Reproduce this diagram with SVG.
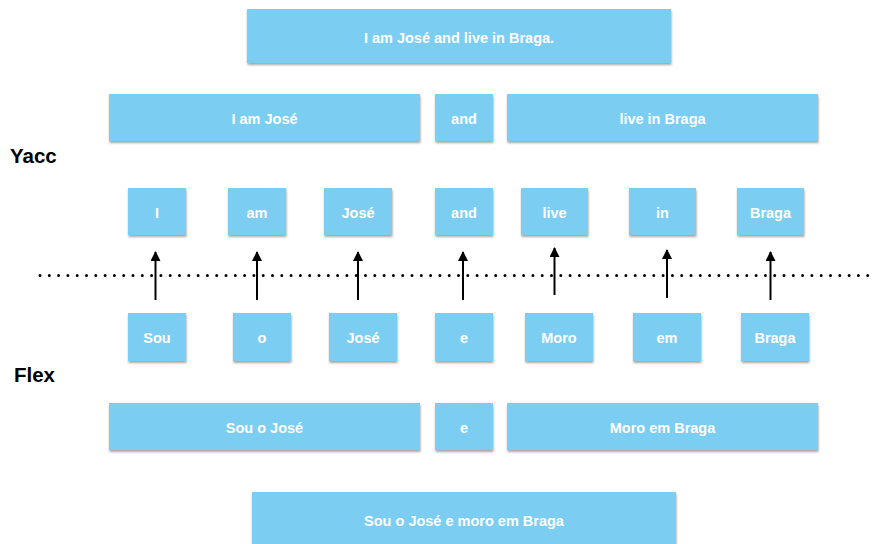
<svg xmlns="http://www.w3.org/2000/svg" width="875" height="544" viewBox="0 0 875 544">
<defs>
<filter id="sh" x="-10%" y="-20%" width="120%" height="150%">
<feDropShadow dx="0.5" dy="2" stdDeviation="1" flood-color="#6b6b6b" flood-opacity="0.6"/>
</filter>
<marker id="ah" viewBox="0 0 10 10" refX="9" refY="5" markerWidth="10" markerHeight="10" markerUnits="userSpaceOnUse" orient="auto">
<path d="M0,0 L10,5 L0,10 z" fill="#000"/>
</marker>
</defs>
<style>
.b{fill:#7ccdf2;filter:url(#sh)}
.t{fill:#fff;font-family:"Liberation Sans",Arial,sans-serif;font-weight:bold;font-size:14.5px;text-anchor:middle;dominant-baseline:central}
.lab{fill:#000;font-family:"Liberation Sans",Arial,sans-serif;font-weight:bold;font-size:20.5px}
.ar{stroke:#000;stroke-width:2;fill:none;marker-end:url(#ah)}
</style>
<rect width="875" height="544" fill="#fff"/>
<text class="lab" x="10" y="163">Yacc</text>
<text class="lab" x="14" y="382">Flex</text>
<g id="n-top"><rect class="b" x="247" y="9" width="424" height="54"/><text class="t" x="459" y="37.5">I am José and live in Braga.</text></g>
<g id="n-y1"><rect class="b" x="109" y="94" width="311" height="47"/><text class="t" x="264.5" y="118.5">I am José</text></g>
<g id="n-y2"><rect class="b" x="435" y="94" width="58" height="47"/><text class="t" x="464" y="118.5">and</text></g>
<g id="n-y3"><rect class="b" x="507" y="94" width="311" height="47"/><text class="t" x="662.5" y="118.5">live in Braga</text></g>
<g id="n-t1"><rect class="b" x="128" y="188" width="58" height="47"/><text class="t" x="157" y="212.5">I</text></g>
<g id="n-t2"><rect class="b" x="228" y="188" width="58" height="47"/><text class="t" x="257" y="212.5">am</text></g>
<g id="n-t3"><rect class="b" x="324" y="188" width="68" height="47"/><text class="t" x="358" y="212.5">José</text></g>
<g id="n-t4"><rect class="b" x="435" y="188" width="58" height="47"/><text class="t" x="464" y="212.5">and</text></g>
<g id="n-t5"><rect class="b" x="521" y="188" width="67" height="47"/><text class="t" x="554.5" y="212.5">live</text></g>
<g id="n-t6"><rect class="b" x="629" y="188" width="67" height="47"/><text class="t" x="662.5" y="212.5">in</text></g>
<g id="n-t7"><rect class="b" x="737" y="188" width="67" height="47"/><text class="t" x="770.5" y="212.5">Braga</text></g>
<g id="n-f1"><rect class="b" x="128" y="313" width="58" height="48"/><text class="t" x="157" y="337.5">Sou</text></g>
<g id="n-f2"><rect class="b" x="233" y="313" width="58" height="48"/><text class="t" x="262" y="337.5">o</text></g>
<g id="n-f3"><rect class="b" x="329" y="313" width="68" height="48"/><text class="t" x="363" y="337.5">José</text></g>
<g id="n-f4"><rect class="b" x="435" y="313" width="58" height="48"/><text class="t" x="464" y="337.5">e</text></g>
<g id="n-f5"><rect class="b" x="525" y="313" width="68" height="48"/><text class="t" x="559" y="337.5">Moro</text></g>
<g id="n-f6"><rect class="b" x="633" y="313" width="68" height="48"/><text class="t" x="667" y="337.5">em</text></g>
<g id="n-f7"><rect class="b" x="741" y="313" width="68" height="48"/><text class="t" x="775" y="337.5">Braga</text></g>
<g id="n-x1"><rect class="b" x="109" y="403" width="311" height="47"/><text class="t" x="264.5" y="427.5">Sou o José</text></g>
<g id="n-x2"><rect class="b" x="435" y="403" width="58" height="47"/><text class="t" x="464" y="427.5">e</text></g>
<g id="n-x3"><rect class="b" x="507" y="403" width="311" height="47"/><text class="t" x="662.5" y="427.5">Moro em Braga</text></g>
<g id="n-bot"><rect class="b" x="252" y="492" width="424" height="56"/><text class="t" x="464" y="520.5">Sou o José e moro em Braga</text></g>
<g id="connectors">
<line x1="40" y1="275.5" x2="875" y2="275.5" stroke="#000" stroke-width="3" stroke-linecap="round" stroke-dasharray="0 9.3"/>
<line class="ar" x1="155.5" y1="300" x2="155.5" y2="252"/>
<line class="ar" x1="257" y1="300" x2="257" y2="252"/>
<line class="ar" x1="358" y1="300" x2="358" y2="252"/>
<line class="ar" x1="463" y1="300" x2="463" y2="252"/>
<line class="ar" x1="554.5" y1="295" x2="554.5" y2="248"/>
<line class="ar" x1="667" y1="298" x2="667" y2="250"/>
<line class="ar" x1="770.5" y1="300" x2="770.5" y2="252"/>
</g>
</svg>
